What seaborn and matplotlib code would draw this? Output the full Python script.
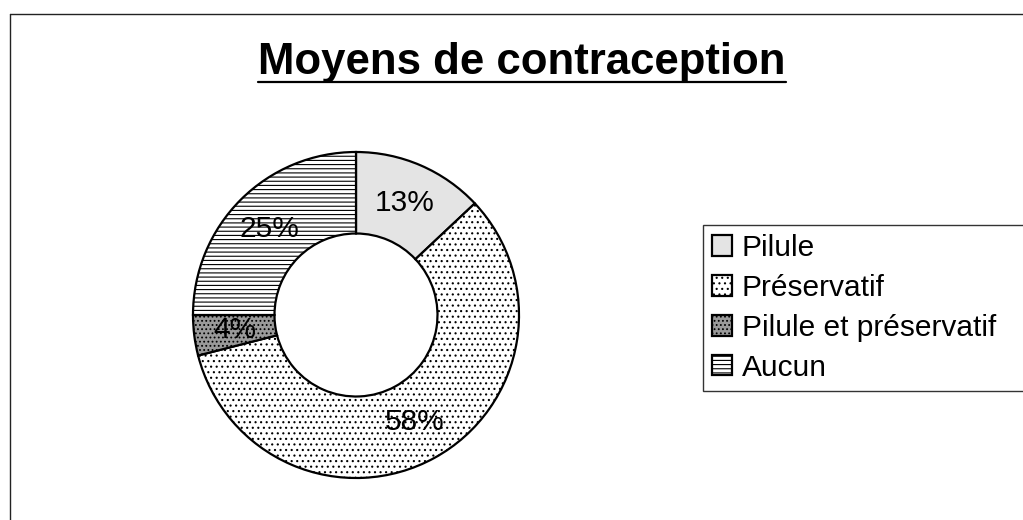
import matplotlib
matplotlib.use("Agg")
import matplotlib.pyplot as plt
from matplotlib.lines import Line2D
import seaborn as sns

# data
categories = ["Pilule", "Préservatif", "Pilule et préservatif", "Aucun"]
shares = [13, 58, 4, 25]
face_colors = ["#e4e4e4", "#ffffff", "#9a9a9a", "#ffffff"]
hatches = ["", "...", "....", "----"]

sns.set_style("white")
plt.rcParams["font.family"] = ["Liberation Sans", "DejaVu Sans"]
plt.rcParams["text.color"] = "black"
plt.rcParams["hatch.linewidth"] = 0.8

W, H = 1023, 520
fig = plt.figure(figsize=(W / 100, H / 100), dpi=100)

# donut: centre (356, 315) px, outer radius 163 px
cx, cy, r = 356, 315, 163
ax = fig.add_axes([(cx - r) / W, (H - cy - r) / H, 2 * r / W, 2 * r / H])

wedges, texts, pcts = ax.pie(
    shares,
    colors=face_colors,
    hatch=hatches,
    startangle=90,
    counterclock=False,
    radius=1.0,
    autopct="%1.0f%%",
    pctdistance=0.75,
    wedgeprops=dict(width=0.5, edgecolor="black", linewidth=1.6),
    textprops=dict(fontsize=21.5, color="black"),
)
ax.set_xlim(-1, 1)
ax.set_ylim(-1, 1)
ax.set_aspect("auto")
ax.axis("off")

# title with underline
title = fig.text(522 / W, 1 - 74 / H, "Moyens de contraception", ha="center",
                 va="baseline", fontsize=31.5, fontweight="bold", color="black")
fig.canvas.draw()
bb = title.get_window_extent()
fig.add_artist(Line2D([bb.x0 / W, bb.x1 / W], [1 - 82 / H, 1 - 82 / H],
                      transform=fig.transFigure, color="black", linewidth=1.6))

# outer chart frame (only top and left edges are inside the picture)
fig.add_artist(Line2D([10 / W, 1.0], [1 - 14 / H, 1 - 14 / H],
                      transform=fig.transFigure, color="#222222", linewidth=1.0))
fig.add_artist(Line2D([10 / W, 10 / W], [1 - 14 / H, 0.0],
                      transform=fig.transFigure, color="#222222", linewidth=1.0))

# legend box runs past the right edge of the picture
leg = fig.legend(
    wedges, categories,
    loc="upper left",
    bbox_to_anchor=(703 / W, 1 - 409 / H, 360 / W, 184 / H),
    bbox_transform=fig.transFigure,
    mode="expand",
    fontsize=21.5,
    frameon=True,
    fancybox=False,
    shadow=False,
    handlelength=0.67,
    handleheight=0.67,
    handletextpad=0.33,
    labelspacing=0.4,
    borderpad=0.3,
    borderaxespad=0,
)
leg.get_frame().set_edgecolor("black")
leg.get_frame().set_linewidth(1.0)
for t in leg.get_texts():
    t.set_color("black")

fig.savefig("out.png", dpi=100)
